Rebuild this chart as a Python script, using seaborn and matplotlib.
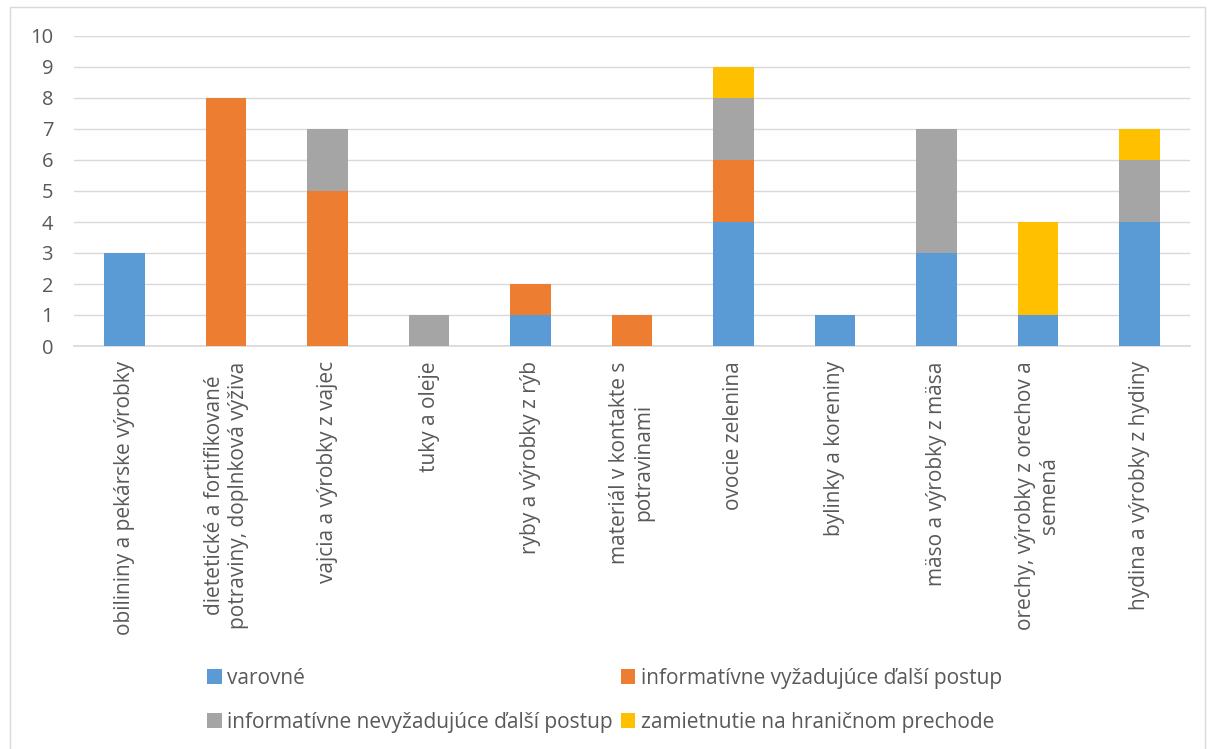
import pandas as pd
import seaborn as sns
import matplotlib.pyplot as plt
from matplotlib.patches import Rectangle, Patch

plt.switch_backend("Agg")

# Data
categories = [
    "obilininy a pekárske výrobky",
    "dietetické a fortifikované\npotraviny, doplnková výživa",
    "vajcia a výrobky z vajec",
    "tuky a oleje",
    "ryby a výrobky z rýb",
    "materiál v kontakte s\npotravinami",
    "ovocie zelenina",
    "bylinky a koreniny",
    "mäso a výrobky z mäsa",
    "orechy, výrobky z orechov a\nsemená",
    "hydina a výrobky z hydiny",
]
series_names = [
    "varovné",
    "informatívne vyžadujúce ďalší postup",
    "informatívne nevyžadujúce ďalší postup",
    "zamietnutie na hraničnom prechode",
]
varovne = [3, 0, 0, 0, 1, 0, 4, 1, 3, 1, 4]
vyzadujuce = [0, 8, 5, 0, 1, 1, 2, 0, 0, 0, 0]
nevyzadujuce = [0, 0, 2, 1, 0, 0, 2, 0, 4, 0, 2]
zamietnutie = [0, 0, 0, 0, 0, 0, 1, 0, 0, 3, 1]
colors = ["#5B9BD5", "#ED7D31", "#A5A5A5", "#FFC000"]

df = pd.DataFrame({"kategoria": categories})
for name, vals in zip(series_names, [varovne, vyzadujuce, nevyzadujuce, zamietnutie]):
    df[name] = vals

sns.set_theme(style="white")
plt.rcParams["font.family"] = ["Open Sans", "DejaVu Sans"]

W, H = 1215, 749
fig = plt.figure(figsize=(W / 100, H / 100), dpi=100)
ax = fig.add_axes([74 / W, 1 - 346 / H, (1190 - 74) / W, (346 - 36) / H])

# stacked bars: draw cumulative totals, tallest first
cum = df[series_names].cumsum(axis=1)
for name, col in reversed(list(zip(series_names, colors))):
    sns.barplot(x=df["kategoria"], y=cum[name], color=col, width=0.4,
                ax=ax, saturation=1, linewidth=0, zorder=3)

ax.set_ylim(0, 10)
ax.set_yticks(range(0, 11))
ax.yaxis.grid(True, color="#D9D9D9", linewidth=1, zorder=0)
ax.set_xlabel("")
ax.set_ylabel("")
for s in ["top", "right", "left"]:
    ax.spines[s].set_visible(False)
ax.spines["bottom"].set_color("#D9D9D9")
ax.tick_params(axis="y", length=0, labelsize=14.5, colors="#595959", pad=15)
ax.tick_params(axis="x", length=0, labelsize=15, colors="#595959", pad=11)
ax.set_xticks(range(len(categories)))
ax.set_xticklabels(categories, rotation=90, va="top", ha="center",
                   multialignment="center")
ax.set_xlim(-0.5, len(categories) - 0.5)

# outer chart border
fig.patches.append(Rectangle((10 / W, -0.01), 1195 / W, 1 - 7 / H + 0.01,
                             transform=fig.transFigure, fill=False,
                             edgecolor="#D9D9D9", linewidth=1))

order = [0, 2, 1, 3]
handles = [Patch(facecolor=colors[i], edgecolor="none") for i in order]
labels = [series_names[i] for i in order]
fig.legend(handles, labels, ncol=2, loc="upper left",
           bbox_to_anchor=(207 / W, 1 - 668 / H), frameon=False,
           prop={"size": 15}, labelcolor="#595959",
           handlelength=0.7, handleheight=0.7,
           handletextpad=0.25, columnspacing=0.4, labelspacing=1.1,
           borderaxespad=0, borderpad=0)

fig.savefig("out.png", dpi=100)
